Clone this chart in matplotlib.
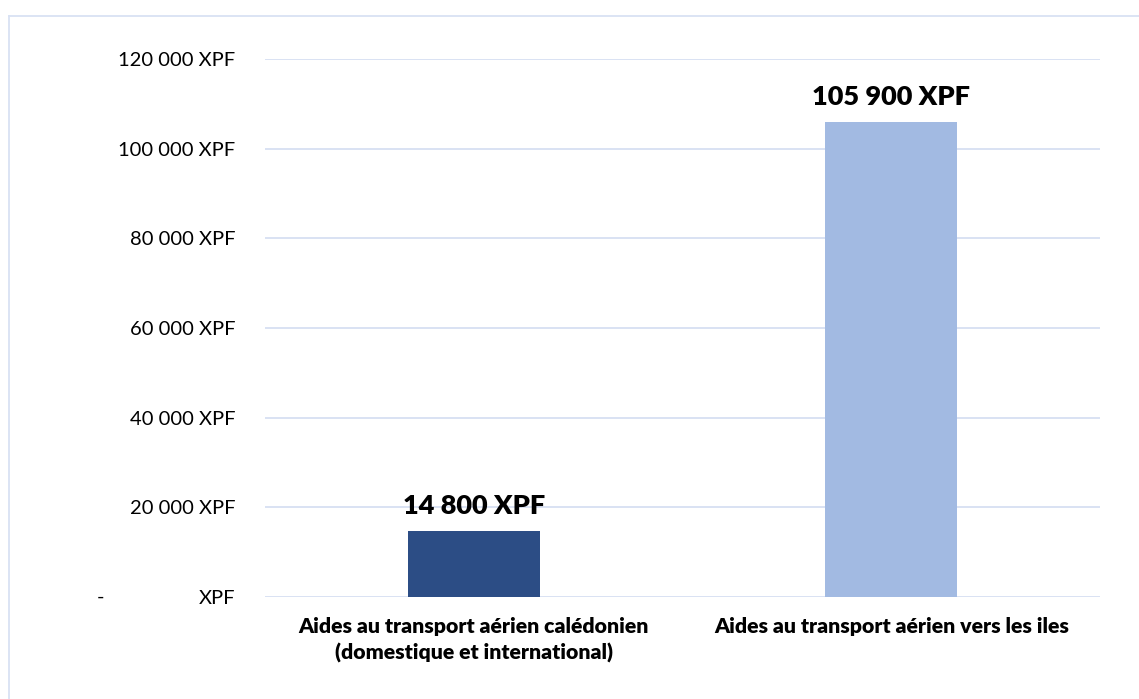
import matplotlib.pyplot as plt
from matplotlib.lines import Line2D
from matplotlib.ticker import FuncFormatter

CATEGORIES = [
    "Aides au transport aérien calédonien\n(domestique et international)",
    "Aides au transport aérien vers les iles",
]
VALUES = [14800, 105900]
Y_TICKS = [0, 20000, 40000, 60000, 80000, 100000, 120000]

BAR_COLORS = ["#2C4D85", "#A2BAE2"]
GRID_COLOR = "#D9E2F3"
TEXT_COLOR = "#000000"
FONT = ["Lato", "DejaVu Sans"]

plt.rcParams["font.family"] = FONT


def xpf(value, _pos=None):
    if value == 0:
        return "XPF"
    return f"{value:,.0f}".replace(",", " ") + " XPF"


fig = plt.figure(figsize=(11.39, 6.99), dpi=100, facecolor="white")
W, H = 1139, 699
ax = fig.add_axes((265 / W, 1 - 597 / H, 835 / W, 538 / H))

x = range(len(CATEGORIES))
ax.bar(x, VALUES, width=0.316, color=BAR_COLORS, zorder=2)

for xi, v in zip(x, VALUES):
    ax.annotate(
        xpf(v),
        (xi, v),
        xytext=(0, 25),
        textcoords="offset pixels",
        ha="center",
        va="center",
        fontsize=19.5,
        fontweight="heavy",
        color=TEXT_COLOR,
    )

ax.set_xlim(-0.5, 1.5)
ax.set_ylim(0, 120000)
ax.set_yticks(Y_TICKS)
ax.yaxis.set_major_formatter(FuncFormatter(xpf))
ax.set_xticks(list(x), CATEGORIES, fontweight="heavy", linespacing=1.4)
ax.tick_params(axis="y", length=0, pad=21.6, labelsize=14.5, colors=TEXT_COLOR)
ax.tick_params(axis="x", length=0, pad=14.5, labelsize=15.3, colors=TEXT_COLOR)
ax.yaxis.grid(True, color=GRID_COLOR, linewidth=1.4)
ax.set_axisbelow(True)
for spine in ax.spines.values():
    spine.set_visible(False)

# dash in front of the zero label, accounting style
fig.text(100 / W, 1 - 597 / H, "-", ha="center", va="center", fontsize=14.5, color=TEXT_COLOR)

# chart frame (top and left edges)
fig.add_artist(Line2D([8.5 / W, 1], [1 - 15.5 / H, 1 - 15.5 / H], color=GRID_COLOR, linewidth=1.3))
fig.add_artist(Line2D([8.5 / W, 8.5 / W], [0, 1 - 15.5 / H], color=GRID_COLOR, linewidth=1.3))

fig.savefig("out.png", dpi=100, facecolor="white")
